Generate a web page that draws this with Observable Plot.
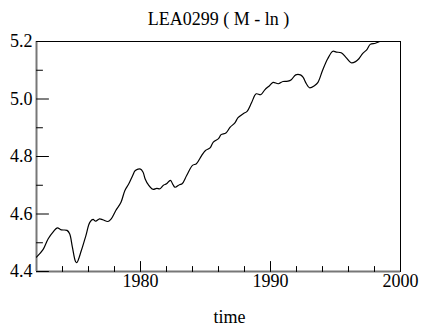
<!DOCTYPE html>
<html>
<head>
<meta charset="utf-8">
<script src="https://cdn.jsdelivr.net/npm/d3@7"></script>
<script src="https://cdn.jsdelivr.net/npm/@observablehq/plot@0.6"></script>
<style>
  html, body { margin: 0; padding: 0; background: #fff; }
  svg { display: block; }
  #chart svg, #chart svg text { font-family: "Liberation Serif", "Times New Roman", Times, serif !important; }
</style>
</head>
<body>
<div id="chart"></div>
<script>
const titleText = "LEA0299 ( M - ln )";
const xLabel = "time";

const years = [
  1972.0, 1972.5, 1972.9, 1973.3, 1973.6, 1973.9, 1974.35, 1974.55, 1974.76, 1975.0,
  1975.1, 1975.45, 1975.8, 1976.1, 1976.35, 1976.55, 1976.85, 1977.1, 1977.5, 1977.75,
  1978.1, 1978.5, 1978.8, 1979.1, 1979.4, 1979.6, 1980.0, 1980.2, 1980.36, 1980.6,
  1980.95, 1981.25, 1981.5, 1981.76, 1982.0, 1982.3, 1982.5, 1982.66, 1983.0, 1983.2,
  1983.55, 1984.0, 1984.3, 1984.7, 1985.0, 1985.35, 1985.6, 1986.0, 1986.2, 1986.57,
  1986.9, 1987.26, 1987.5, 1987.9, 1988.2, 1988.54, 1988.9, 1989.25, 1989.56, 1989.94,
  1990.2, 1990.6, 1990.96, 1991.35, 1991.6, 1991.94, 1992.3, 1992.5, 1992.76, 1993.0,
  1993.4, 1993.65, 1994.0, 1994.4, 1994.8, 1995.06, 1995.44, 1995.8, 1996.2, 1996.54,
  1996.8, 1997.1, 1997.4, 1997.67, 1998.07, 1998.4
];
const values = [
  4.450, 4.476, 4.514, 4.539, 4.552, 4.545, 4.543, 4.531, 4.485, 4.435,
  4.431, 4.473, 4.525, 4.571, 4.581, 4.575, 4.583, 4.580, 4.574, 4.583,
  4.612, 4.641, 4.682, 4.705, 4.734, 4.751, 4.756, 4.745, 4.722, 4.702,
  4.686, 4.689, 4.688, 4.700, 4.705, 4.717, 4.702, 4.693, 4.702, 4.705,
  4.734, 4.769, 4.775, 4.803, 4.821, 4.830, 4.850, 4.862, 4.876, 4.882,
  4.902, 4.917, 4.935, 4.949, 4.957, 4.987, 5.018, 5.015, 5.032, 5.047,
  5.058, 5.053, 5.061, 5.062, 5.067, 5.084, 5.084, 5.076, 5.053, 5.039,
  5.047, 5.058, 5.099, 5.140, 5.166, 5.163, 5.161, 5.145, 5.126, 5.130,
  5.140, 5.159, 5.171, 5.190, 5.194, 5.200
];

const xMajorTicks = [1980, 1990, 2000];
const xMinorTicks = [1974, 1976, 1978, 1982, 1984, 1986, 1988, 1992, 1994, 1996, 1998];
const yMajorTicks = [4.4, 4.6, 4.8, 5.0, 5.2];
const yMinorTicks = [4.5, 4.7, 4.9, 5.1];
const xDomain = [1972, 2000];
const yDomain = [4.4, 5.2];

const data = years.map((t, i) => ({t, v: values[i]}));

const W = 422, H = 328;
const mL = 36, mR = 22, mT = 41, mB = 57;
const font = "'Liberation Serif', 'Times New Roman', Times, serif";

// inward tick marks drawn as zero-width spikes (a line of given length)
const tickShape = {
  draw(context, l) { context.moveTo(0, 0); context.lineTo(0, -l); }
};

const chart = Plot.plot({
  width: W,
  height: H,
  marginLeft: mL,
  marginRight: mR,
  marginTop: mT,
  marginBottom: mB,
  style: {fontFamily: font, fontSize: "18px", color: "#000", background: "#fff"},
  x: {domain: xDomain},
  y: {domain: yDomain},
  marks: [
    Plot.frame({stroke: "#000", strokeWidth: 1}),
    Plot.ruleY([yDomain[0]], {stroke: "#777", strokeWidth: 2}),
    Plot.ruleX([xDomain[0]], {stroke: "#777", strokeWidth: 2}),
    Plot.vector(xMinorTicks, {x: d => d, y: yDomain[0], length: 5, rotate: 0, anchor: "start", shape: tickShape, stroke: "#000", strokeWidth: 1}),
    Plot.vector(xMajorTicks, {x: d => d, y: yDomain[0], length: 10, rotate: 0, anchor: "start", shape: tickShape, stroke: "#000", strokeWidth: 1}),
    Plot.vector(yMinorTicks, {x: xDomain[0], y: d => d, length: 6, rotate: 90, anchor: "start", shape: tickShape, stroke: "#000", strokeWidth: 1}),
    Plot.vector(yMajorTicks, {x: xDomain[0], y: d => d, length: 12, rotate: 90, anchor: "start", shape: tickShape, stroke: "#000", strokeWidth: 1}),
    Plot.axisX({ticks: xMajorTicks, tickSize: 0, tickPadding: 3, tickFormat: d => String(d), label: null, fontSize: 18, fontFamily: font}),
    Plot.axisY({ticks: yMajorTicks, tickSize: 0, tickPadding: 4, tickFormat: d => d.toFixed(1), label: null, fontSize: 18, fontFamily: font}),
    Plot.line(data, {x: "t", y: "v", stroke: "#000", strokeWidth: 1.2, curve: "catmull-rom", clip: true}),
    Plot.text([titleText], {text: d => d, frameAnchor: "top", lineAnchor: "bottom", dy: -17, fontSize: 18, fontFamily: font, fill: "#000"}),
    Plot.text([xLabel], {text: d => d, frameAnchor: "bottom", lineAnchor: "bottom", dy: 51, dx: 11, fontSize: 18, fontFamily: font, fill: "#000"})
  ]
});
document.getElementById("chart").appendChild(chart);
</script>
</body>
</html>
